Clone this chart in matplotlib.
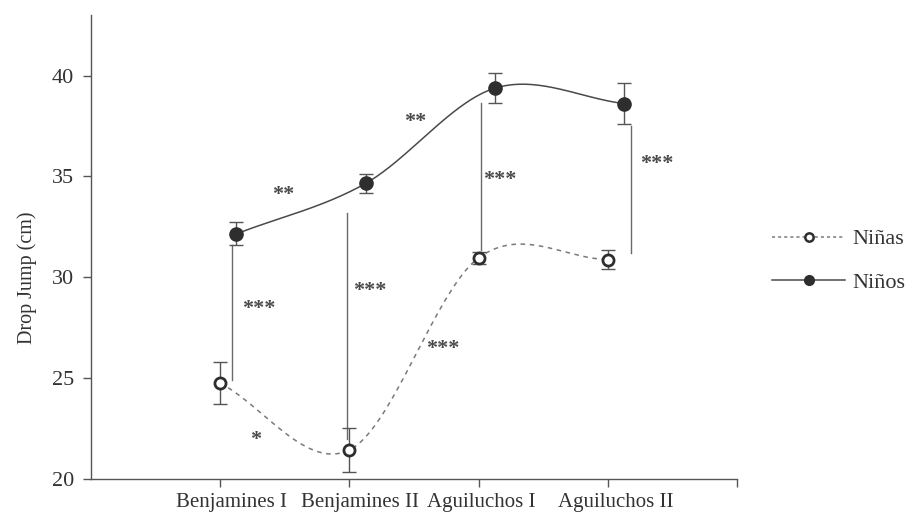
import numpy as np
import matplotlib
matplotlib.use("Agg")
import matplotlib.pyplot as plt
from matplotlib.lines import Line2D

# --- data -------------------------------------------------------------
categories = ["Benjamines I", "Benjamines II", "Aguiluchos I", "Aguiluchos II"]
ninas_mean = [24.75, 21.44, 30.96, 30.88]
ninas_err = [1.05, 1.10, 0.30, 0.45]
ninos_mean = [32.15, 34.65, 39.37, 38.61]
ninos_err = [0.57, 0.47, 0.75, 1.00]
y_ticks = [20, 25, 30, 35, 40]

# significance brackets: (x, y_low, y_high)
sig_lines = [(1.09, 24.9, 31.58), (1.98, 22.0, 33.2),
             (3.02, 31.34, 38.66), (4.18, 31.2, 37.5)]
# significance marks: (x, y, text)
sig_marks = [(1.486, 34.21, "**"), (2.508, 37.82, "**"),
             (1.300, 28.56, "***"), (2.159, 29.46, "***"),
             (1.277, 22.08, "*"), (2.724, 26.58, "***"),
             (3.166, 34.95, "***"), (4.381, 35.74, "***")]

SERIF = ["Liberation Serif", "DejaVu Serif"]
plt.rcParams["font.family"] = SERIF

cat_x = np.arange(1, len(categories) + 1, dtype=float)
boys_shift = 0.125
label_x = [1.09, 2.08, 3.02, 4.06]


def smooth(x, y, n=60):
    """Cardinal (Catmull-Rom) spline through the points."""
    x = np.asarray(x, float)
    y = np.asarray(y, float)
    m = np.gradient(y)
    xs, ys = [], []
    for i in range(len(x) - 1):
        t = np.linspace(0, 1, n)
        h00 = 2 * t**3 - 3 * t**2 + 1
        h10 = t**3 - 2 * t**2 + t
        h01 = -2 * t**3 + 3 * t**2
        h11 = t**3 - t**2
        ys.append(h00 * y[i] + h10 * m[i] + h01 * y[i + 1] + h11 * m[i + 1])
        xs.append(x[i] + t * (x[i + 1] - x[i]))
    return np.concatenate(xs), np.concatenate(ys)


fig = plt.figure(figsize=(9.15, 5.31), dpi=100)
ax = fig.add_axes([91 / 915, 1 - 479 / 531, 646 / 915, 464 / 531])
ax.set_xlim(0, 5)
ax.set_ylim(20, 43)

line_col = "#4a4a4a"
mark_col = "#2e2e2e"

# significance brackets
for x, y0, y1 in sig_lines:
    ax.plot([x, x], [y0, y1], color="#6a6a6a", lw=1.0, zorder=1)

# girls
gx, gy = smooth(cat_x, ninas_mean)
ax.plot(gx, gy, color="#7a7a7a", lw=1.1, ls=(0, (3, 3)), zorder=2)
ax.errorbar(cat_x, ninas_mean, yerr=ninas_err, fmt="none", ecolor="#555555",
            elinewidth=1.0, capsize=5, capthick=1.0, zorder=3)
ax.plot(cat_x, ninas_mean, "o", ms=8, mfc="white", mec=mark_col, mew=2.0, zorder=4)

# boys
bx_pts = cat_x + boys_shift
bx, by = smooth(bx_pts, ninos_mean)
ax.plot(bx, by, color=line_col, lw=1.1, zorder=2)
ax.errorbar(bx_pts, ninos_mean, yerr=ninos_err, fmt="none", ecolor="#555555",
            elinewidth=1.0, capsize=5, capthick=1.0, zorder=3)
ax.plot(bx_pts, ninos_mean, "o", ms=9.5, color=mark_col, zorder=4)

for x, y, s in sig_marks:
    ax.text(x, y, s, ha="center", va="center_baseline", fontsize=16,
            fontweight="bold", color="#4a4a4a", family=SERIF)

# axes styling
for side in ("top", "right"):
    ax.spines[side].set_visible(False)
for side in ("left", "bottom"):
    ax.spines[side].set_color("#555555")
    ax.spines[side].set_linewidth(1.0)

ax.set_yticks(y_ticks)
ax.tick_params(axis="y", direction="out", length=6, width=1, color="#555555",
               pad=6, labelsize=16, labelcolor="#333333")
ax.set_xticks(np.arange(1, 6))
ax.set_xticklabels([])
ax.tick_params(axis="x", which="major", direction="out", length=6, width=1,
               color="#555555")
ax.set_xticks(label_x, minor=True)
ax.set_xticklabels(categories, minor=True)
ax.tick_params(axis="x", which="minor", length=0, pad=10, labelsize=15,
               labelcolor="#333333")

ax.set_ylabel("Drop Jump (cm)", fontsize=14.5, color="#333333")
ax.yaxis.set_label_coords(-0.083, (30 - 20) / 23)

handles = [
    Line2D([], [], color="#7a7a7a", lw=1.1, ls=(0, (2, 2)), marker="o", ms=6,
           mfc="white", mec=mark_col, mew=1.8),
    Line2D([], [], color=line_col, lw=1.1, marker="o", ms=7, mfc=mark_col,
           mec=mark_col),
]
fig.legend(handles, ["Niñas", "Niños"], loc="center left",
           bbox_to_anchor=(761 / 915, 1 - 261 / 531), frameon=False,
           fontsize=16, handlelength=3.3, handletextpad=0.3,
           labelspacing=1.05, borderpad=0, labelcolor="#333333")

fig.savefig("out.png", dpi=100, facecolor="white")
